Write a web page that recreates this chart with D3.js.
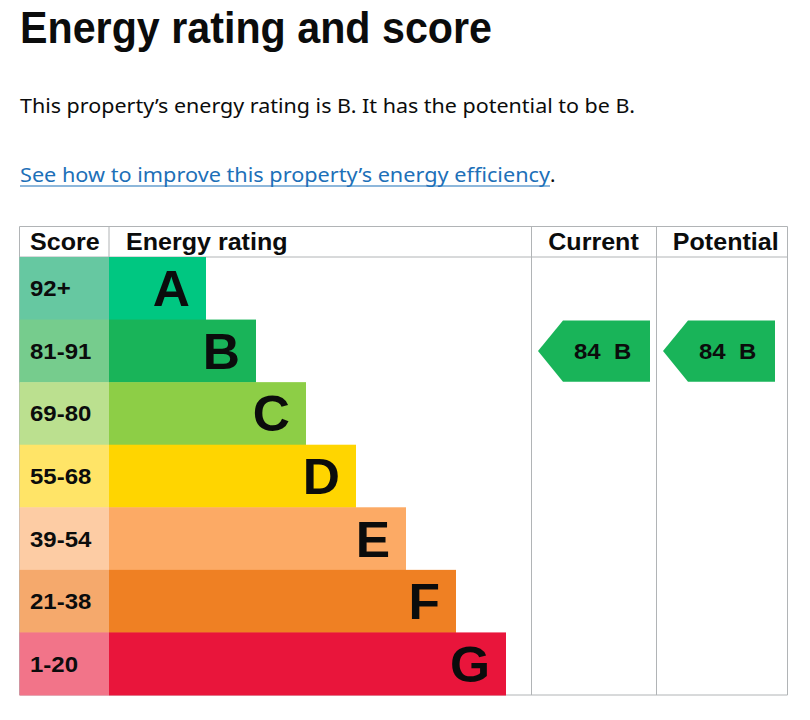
<!DOCTYPE html>
<html>
<head>
<meta charset="utf-8">
<script src="https://cdn.jsdelivr.net/npm/d3@7"></script>
<style>
  html, body { margin: 0; padding: 0; background: #fff; }
  svg { display: block; }
</style>
</head>
<body>
<div id="chart"></div>
<script>
// ---- data ----
const bands = ["A", "B", "C", "D", "E", "F", "G"];
const scoreRanges = ["92+", "81-91", "69-80", "55-68", "39-54", "21-38", "1-20"];
const bandMin = [92, 81, 69, 55, 39, 21, 1];
const bandColors = ["#00c781", "#19b459", "#8dce46", "#ffd500", "#fcaa65", "#ef8023", "#e9153b"];
const scoreColors = ["#66c8a1", "#76cc8d", "#bbe08f", "#ffe467", "#fdcca4", "#f5a96c", "#f27489"];
const columns = ["Score", "Energy rating", "Current", "Potential"];
const currentScore = 84;
const potentialScore = 84;
const titleText = "Energy rating and score";
const summaryText = "This property\u2019s energy rating is B. It has the potential to be B.";
const linkText = "See how to improve this property\u2019s energy efficiency";

// ---- layout ----
const W = 810, H = 720;
const svg = d3.select("#chart").append("svg").attr("width", W).attr("height", H);

const gds = "'Noto Sans', 'Open Sans', Arial, sans-serif";
const arial = "'Liberation Sans', Arial, Helvetica, sans-serif";
const SX = 1.09; // horizontal stretch for table text

svg.append("text").attr("x", 20).attr("y", 43)
  .attr("font-family", arial).attr("font-weight", 700).attr("font-size", 45)
  .attr("fill", "#0b0c0c").attr("textLength", 472).attr("lengthAdjust", "spacingAndGlyphs")
  .text(titleText);

svg.append("text").attr("x", 20).attr("y", 113)
  .attr("font-family", gds).attr("font-size", 20.5)
  .attr("fill", "#0b0c0c").attr("textLength", 615).attr("lengthAdjust", "spacingAndGlyphs")
  .text(summaryText);

svg.append("text").attr("x", 20).attr("y", 182)
  .attr("font-family", gds).attr("font-size", 20.5)
  .attr("fill", "#1d70b8").attr("textLength", 530).attr("lengthAdjust", "spacingAndGlyphs")
  .text(linkText);
svg.append("line").attr("x1", 20).attr("x2", 550).attr("y1", 186).attr("y2", 186)
  .attr("stroke", "#1d70b8").attr("stroke-width", 1.2);
svg.append("text").attr("x", 550).attr("y", 182)
  .attr("font-family", gds).attr("font-size", 20.5).attr("fill", "#0b0c0c").text(".");

// table geometry
const tableLeft = 19.5, tableRight = 787.5, tableTop = 226.5, headerBottom = 257, tableBottom = 695;
const colX = d3.scaleOrdinal().domain(columns).range([19.5, 109, 531, 656]);
const colEnd = d3.scaleOrdinal().domain(columns).range([109, 531, 656, 787.5]);

const y = d3.scaleBand().domain(bands).range([headerBottom, tableBottom]).paddingInner(0);
const barRight = d3.scaleLinear().domain([0, bands.length - 1]).range([206, 506]);

const grid = "#b1b4b6";
const g = svg.append("g");

function stretchedText(parent, x, yy, size, txt, anchor, sx) {
  return parent.append("text")
    .attr("transform", `translate(${x},${yy}) scale(${sx || SX},1)`)
    .attr("text-anchor", anchor || "start")
    .attr("font-family", arial).attr("font-weight", 700)
    .attr("font-size", size).attr("fill", "#0b0c0c")
    .style("white-space", "pre")
    .text(txt);
}

// horizontal lines
[tableTop, headerBottom, tableBottom].forEach(yy => {
  g.append("line").attr("x1", tableLeft).attr("x2", tableRight).attr("y1", yy).attr("y2", yy)
    .attr("stroke", grid);
});
// vertical lines
[tableLeft, 109, 531.5, 656.5, tableRight].forEach(x => {
  g.append("line").attr("x1", x).attr("x2", x).attr("y1", tableTop).attr("y2", tableBottom)
    .attr("stroke", grid);
});

// header labels
const headerY = 250;
stretchedText(g, 30, headerY, 23, columns[0]);
stretchedText(g, 126, headerY, 23, columns[1]);
stretchedText(g, (colX(columns[2]) + colEnd(columns[2])) / 2, headerY, 23, columns[2], "middle");
stretchedText(g, (colX(columns[3]) + colEnd(columns[3])) / 2 + 4, headerY, 23, columns[3], "middle");

// rows
const rows = g.selectAll("g.row").data(bands).join("g").attr("class", "row");
rows.append("rect").attr("x", tableLeft).attr("y", d => y(d))
  .attr("width", 109 - tableLeft).attr("height", y.bandwidth() + 0.5)
  .attr("fill", (d, i) => scoreColors[i]);
rows.append("rect").attr("x", 109).attr("y", d => y(d))
  .attr("width", (d, i) => barRight(i) - 109).attr("height", y.bandwidth() + 0.5)
  .attr("fill", (d, i) => bandColors[i]);
rows.each(function(d, i) {
  const r = d3.select(this);
  stretchedText(r, 30, y(d) + y.bandwidth() / 2 + 8, 22, scoreRanges[i]);
  stretchedText(r, barRight(i) - 16, y(d) + y.bandwidth() / 2 + 18, 50, d, "end", 1.03);
});

// arrows
function bandFor(score) {
  return bandMin.findIndex(m => score >= m);
}
function arrow(col, score) {
  const i = bandFor(score);
  const band = bands[i];
  const top = y(band) + 1, bot = y(band) + y.bandwidth() - 0.5;
  const mid = (top + bot) / 2;
  const left = colX(col) + 7, right = left + 112;
  const shoulder = left + 25;
  g.append("path")
    .attr("d", `M${left},${mid} L${shoulder},${top} L${right},${top} L${right},${bot} L${shoulder},${bot} Z`)
    .attr("fill", bandColors[i]);
  stretchedText(g, left + 36, mid + 8, 22, score + "  " + band);
}
arrow("Current", currentScore);
arrow("Potential", potentialScore);
</script>
</body>
</html>
